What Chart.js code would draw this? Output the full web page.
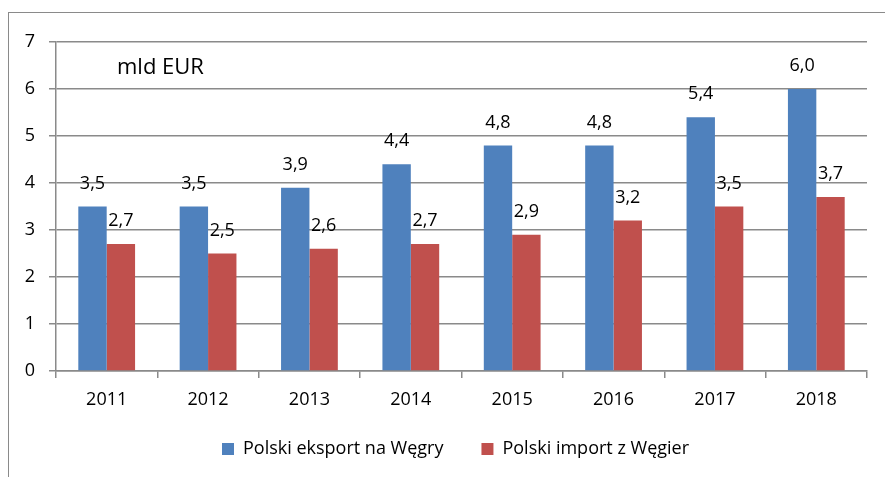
<!DOCTYPE html>
<html>
<head>
<meta charset="utf-8">
<script src="https://cdn.jsdelivr.net/npm/chart.js@4"></script>
<style>
  html, body { margin: 0; padding: 0; background: #fff; }
  #wrap { position: relative; width: 885px; height: 477px; overflow: hidden; }
  #frame {
    position: absolute; left: 8px; top: 12px; width: 900px; height: 500px;
    border-left: 1.5px solid #8a8a8a; border-top: 1.5px solid #8a8a8a;
  }
  canvas { position: absolute; left: 0; top: 0; }
</style>
</head>
<body>
<div id="wrap">
  <div id="frame"></div>
  <canvas id="chart" width="885" height="477"></canvas>
</div>
<script>
// ─── Data ─────────────────────────────────────────────────────────────────────

const years = ['2011', '2012', '2013', '2014', '2015', '2016', '2017', '2018'];
const exportValues = [3.5, 3.5, 3.9, 4.4, 4.8, 4.8, 5.4, 6.0];
const importValues = [2.7, 2.5, 2.6, 2.7, 2.9, 3.2, 3.5, 3.7];
const seriesNames = ['Polski eksport na Węgry', 'Polski import z Węgier'];
const unitLabel = 'mld EUR';

const FONT = '"Open Sans", "Noto Sans", sans-serif';
const GRID = '#8a8a8a';

// ─── Plugins ──────────────────────────────────────────────────────────────────

// values above each bar, Polish decimal comma
const barLabels = {
  id: 'barLabels',
  afterDatasetsDraw(chart) {
    const ctx = chart.ctx;
    ctx.save();
    ctx.font = '18px ' + FONT;
    ctx.fillStyle = '#000';
    ctx.textAlign = 'center';
    ctx.textBaseline = 'middle';
    chart.data.datasets.forEach((ds, i) => {
      chart.getDatasetMeta(i).data.forEach((bar, j) => {
        ctx.fillText(ds.data[j].toFixed(1).replace('.', ','), bar.x, bar.y - 23);
      });
    });
    ctx.restore();
  },
};

const unitText = {
  id: 'unitText',
  afterDraw(chart) {
    const ctx = chart.ctx;
    const area = chart.chartArea;
    ctx.save();
    ctx.font = '22px ' + FONT;
    ctx.fillStyle = '#000';
    ctx.textBaseline = 'middle';
    ctx.fillText(unitLabel, area.left + 61, area.top + 26);
    ctx.restore();
  },
};

// legend in the original sits right of centre and a bit higher up
const legendShift = {
  id: 'legendShift',
  afterLayout(chart) {
    chart.legend.left += 22;
    chart.legend.right += 22;
    chart.legend.top -= 14;
  },
};

// ─── Chart ────────────────────────────────────────────────────────────────────

new Chart(document.getElementById('chart'), {
  type: 'bar',
  data: {
    labels: years,
    datasets: [
      {
        label: seriesNames[0],
        data: exportValues,
        backgroundColor: '#4f81bd',
        categoryPercentage: 0.56,
        barPercentage: 1,
      },
      {
        label: seriesNames[1],
        data: importValues,
        backgroundColor: '#c0504d',
        categoryPercentage: 0.56,
        barPercentage: 1,
      },
    ],
  },
  options: {
    responsive: false,
    animation: false,
    layout: { padding: { top: 42, right: 18, bottom: 5, left: 0 } },
    plugins: {
      tooltip: { enabled: false },
      legend: {
        position: 'bottom',
        maxHeight: 56,
        labels: {
          color: '#000',
          font: { family: FONT, size: 18 },
          boxWidth: 12,
          boxHeight: 12,
          padding: 38,
        },
      },
    },
    scales: {
      x: {
        grid: { drawOnChartArea: false, drawTicks: true, tickLength: 7, color: GRID, lineWidth: 1.5, offset: true },
        border: { color: GRID, width: 1.5 },
        ticks: { color: '#000', font: { family: FONT, size: 18 }, padding: 11 },
        afterFit(scale) { scale.height = 45; },
      },
      y: {
        min: 0,
        max: 7,
        ticks: { stepSize: 1, color: '#000', font: { family: FONT, size: 18 }, padding: 14 },
        grid: { color: GRID, lineWidth: 1.5, tickLength: 7 },
        border: { color: GRID, width: 1.5 },
        afterFit(scale) { scale.width = 56; },
      },
    },
  },
  plugins: [barLabels, unitText, legendShift],
});
</script>
</body>
</html>
